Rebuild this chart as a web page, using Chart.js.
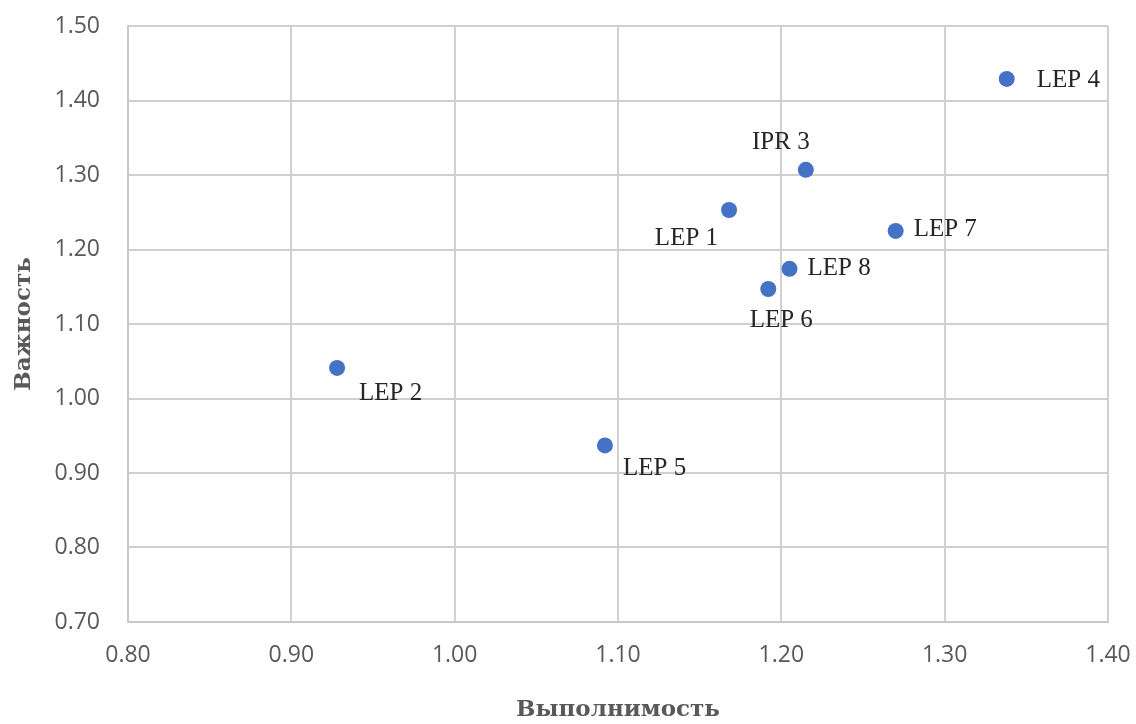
<!DOCTYPE html>
<html>
<head>
<meta charset="utf-8">
<script src="https://cdn.jsdelivr.net/npm/chart.js@4.4.1/dist/chart.umd.min.js"></script>
<style>
  html, body { margin: 0; padding: 0; background: #ffffff; }
  #wrap { width: 1136px; height: 724px; }
</style>
</head>
<body>
<div id="wrap"><canvas id="c" width="1136" height="724"></canvas></div>
<script>
const pointNames = ['LEP 1', 'LEP 2', 'IPR 3', 'LEP 4', 'LEP 5', 'LEP 6', 'LEP 7', 'LEP 8'];
const feasibility = [1.168, 0.928, 1.215, 1.338, 1.092, 1.192, 1.270, 1.205];
const importance  = [1.253, 1.041, 1.307, 1.429, 0.937, 1.147, 1.225, 1.174];
const xTicks = [0.80, 0.90, 1.00, 1.10, 1.20, 1.30, 1.40];
const yTicks = [0.70, 0.80, 0.90, 1.00, 1.10, 1.20, 1.30, 1.40, 1.50];
const xTitle = 'Выполнимость';
const yTitle = 'Важность';

// label placement (style): [dx, dy, textAlign]
const labelPlacement = {
  'LEP 1': [-11, 28, 'right'],
  'LEP 2': [22, 25, 'left'],
  'IPR 3': [-25, -27, 'center'],
  'LEP 4': [30, 2, 'left'],
  'LEP 5': [18, 23, 'left'],
  'LEP 6': [13, 31, 'center'],
  'LEP 7': [18, -1, 'left'],
  'LEP 8': [18, 0, 'left']
};

const labelPlugin = {
  id: 'pointLabels',
  afterDatasetsDraw(chart) {
    const ctx = chart.ctx;
    const meta = chart.getDatasetMeta(0);
    ctx.save();
    ctx.font = '25px "Liberation Serif", serif';
    ctx.fillStyle = '#262626';
    ctx.textBaseline = 'middle';
    meta.data.forEach((el, i) => {
      const name = pointNames[i];
      const p = labelPlacement[name] || [10, 0, 'left'];
      ctx.textAlign = p[2];
      ctx.fillText(name, el.x + p[0], el.y + p[1]);
    });
    ctx.restore();
  }
};

const data = {
  datasets: [{
    data: feasibility.map((v, i) => ({ x: v, y: importance[i] })),
    backgroundColor: '#4472C4',
    borderColor: '#4472C4',
    borderWidth: 0,
    pointRadius: 8,
    pointHoverRadius: 8
  }]
};

new Chart(document.getElementById('c'), {
  type: 'scatter',
  data: data,
  options: {
    responsive: false,
    animation: false,
    events: [],
    layout: { padding: { left: 0, right: 28, top: 26, bottom: 0 } },
    plugins: { legend: { display: false }, tooltip: { enabled: false } },
    scales: {
      x: {
        type: 'linear',
        min: xTicks[0],
        max: xTicks[xTicks.length - 1],
        afterBuildTicks(scale) { scale.ticks = xTicks.map(v => ({ value: v })); },
        afterFit(scale) { scale.height = 102; scale.paddingLeft = 0; scale.paddingRight = 0; },
        grid: { color: '#d0d0d0', lineWidth: 2, drawTicks: false },
        border: { color: '#c8c8c8', width: 2 },
        ticks: {
          padding: 20,
          color: '#595959',
          font: { family: '"Open Sans", sans-serif', size: 23 },
          callback: v => Number(v).toFixed(2)
        },
        title: {
          display: true,
          text: xTitle,
          color: '#595959',
          font: { family: '"DejaVu Serif", serif', size: 23, weight: 'bold', lineHeight: 1.2 },
          padding: { top: 0, bottom: 0 }
        }
      },
      y: {
        type: 'linear',
        min: yTicks[0],
        max: yTicks[yTicks.length - 1],
        afterBuildTicks(scale) { scale.ticks = yTicks.map(v => ({ value: v })); },
        afterFit(scale) { scale.width = 128; scale.paddingTop = 0; scale.paddingBottom = 0; },
        grid: { color: '#d0d0d0', lineWidth: 2, drawTicks: false },
        border: { color: '#c8c8c8', width: 2 },
        ticks: {
          padding: 28,
          color: '#595959',
          font: { family: '"Open Sans", sans-serif', size: 23 },
          callback: v => Number(v).toFixed(2)
        },
        title: {
          display: true,
          text: yTitle,
          color: '#595959',
          font: { family: '"DejaVu Serif", serif', size: 23, weight: 'bold', lineHeight: 1.2 },
          padding: { top: 10, bottom: 0 }
        }
      }
    }
  },
  plugins: [labelPlugin]
});
</script>
</body>
</html>
